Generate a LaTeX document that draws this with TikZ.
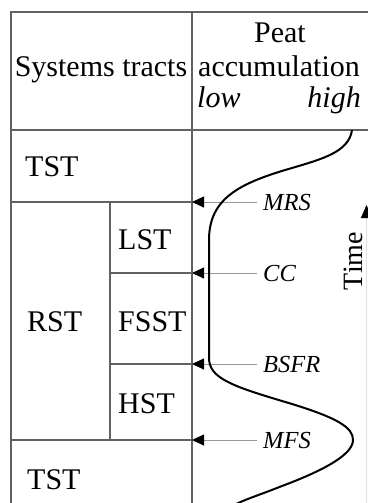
\documentclass[tikz,border=0pt]{standalone}
\usepackage{fontspec}
\setmainfont{Liberation Serif}
\usetikzlibrary{arrows.meta}
\begin{document}
\begin{tikzpicture}[x=1pt,y=-1pt,
  grid/.style={draw=black!62, line width=1.1pt},
  big/.style={font=\fontsize{30}{34}\selectfont, inner sep=0pt},
  lab/.style={font=\fontsize{24.5}{28}\selectfont\itshape, inner sep=0pt, anchor=west},
  marker/.style={draw=black!40, line width=0.9pt, -{Triangle[length=12pt,width=11pt,color=black]}},
  curve/.style={draw=black, line width=2pt}]
\useasboundingbox (0,0) rectangle (367,503);
% table lines
\draw[grid] (11,503) -- (11,12) -- (368,12);
\draw[grid] (192,12) -- (192,503);
\draw[grid] (11,130) -- (368,130);
\draw[grid] (11,202) -- (192,202);
\draw[grid] (11,440) -- (192,440);
\draw[grid] (110,202) -- (110,440);
\draw[grid] (110,273) -- (192,273);
\draw[grid] (110,364) -- (192,364);
% header texts
\node[big, anchor=base] (st) at (101,77) {Systems tracts};
\node[big, anchor=base] (peat) at (280,43) {Peat};
\node[big, anchor=base] (acc) at (279,77) {accumulation};
\node[big, anchor=base west, font=\fontsize{30}{34}\selectfont\itshape] (low) at (197,107) {low};
\node[big, anchor=base east, font=\fontsize{30}{34}\selectfont\itshape] (high) at (361,107) {high};
% tract labels
\node[big, anchor=base west] (tst1) at (25,176) {TST};
\node[big, anchor=base west] (rst) at (27,331) {RST};
\node[big, anchor=base west] (lst) at (118,249) {LST};
\node[big, anchor=base west] (fsst) at (118,331) {FSST};
\node[big, anchor=base west] (hst) at (118,413) {HST};
\node[big, anchor=base west] (tst2) at (27,489) {TST};
% surface labels
\node[lab] (mrs) at (263,203) {MRS};
\node[lab] (cc) at (263,274) {CC};
\node[lab] (bsfr) at (263,365) {BSFR};
\node[lab] (mfs) at (263,441) {MFS};
\coordinate (tmrs) at (192,202);
\coordinate (tcc) at (192,273);
\coordinate (tbsfr) at (192,364);
\coordinate (tmfs) at (192,440);
\draw[marker] (257,202) -- (tmrs);
\draw[marker] (257,273) -- (tcc);
\draw[marker] (257,364) -- (tbsfr);
\draw[marker] (257,440) -- (tmfs);
% peat curve
\draw[curve] (352,130) .. controls (349,152) and (322,159) .. (292,168)
  .. controls (240,183) and (209,198) .. (209,240)
  -- (209,358)
  .. controls (209,378) and (232,386) .. (282,401)
  .. controls (340,418) and (353,428) .. (353,440)
  .. controls (353,455) and (322,471) .. (282,486)
  .. controls (262,494) and (246,499) .. (234,505);
% time
\node[font=\fontsize{28}{30}\selectfont, rotate=90, anchor=base, inner sep=0pt] (time) at (362,261) {Time};
\coordinate (tbot) at (366.5,503);
\coordinate (ttop) at (366.5,205);
\draw[draw=black!12, line width=0.8pt, -{Triangle[length=13pt,width=11pt,color=black]}] (tbot) -- (ttop);
\end{tikzpicture}
\end{document}
